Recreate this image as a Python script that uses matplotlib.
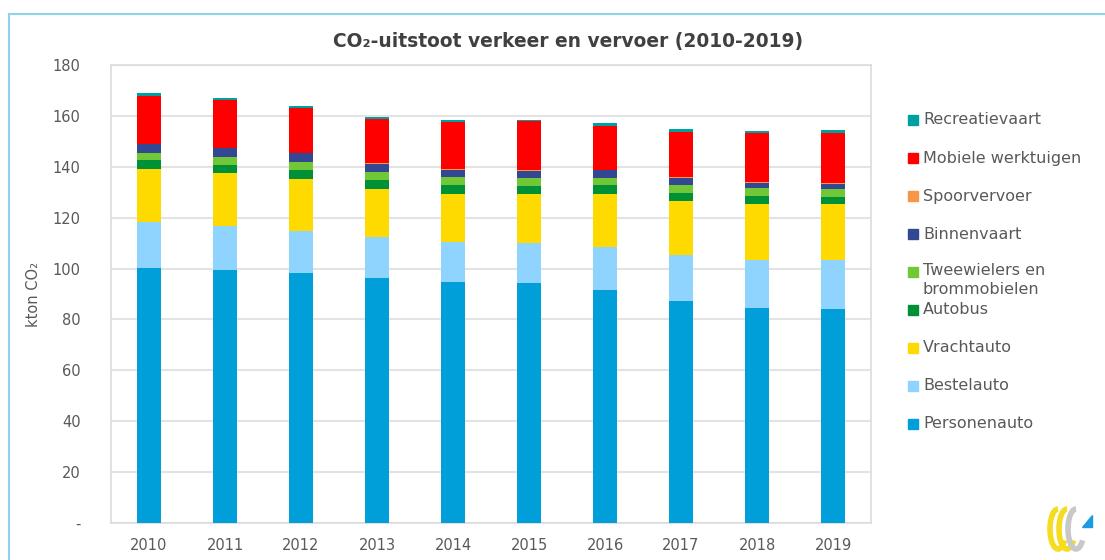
import matplotlib
matplotlib.use("Agg")
import matplotlib.pyplot as plt
import numpy as np
from matplotlib.patches import Rectangle, Arc, Polygon
from matplotlib.lines import Line2D

plt.rcParams['font.family'] = ['DejaVu Sans']

years = ['2010', '2011', '2012', '2013', '2014', '2015', '2016', '2017', '2018', '2019']

personenauto = [100.2, 99.4, 98.4, 96.2, 94.9, 94.2, 91.6, 87.1, 84.5, 84.0]
bestelauto = [18.1, 17.5, 16.5, 16.1, 15.7, 15.7, 17.0, 18.1, 19.0, 19.5]
vrachtauto = [20.7, 20.6, 20.3, 19.0, 18.8, 19.5, 20.8, 21.3, 21.8, 21.7]
autobus = [3.5, 3.2, 3.4, 3.5, 3.3, 3.1, 3.3, 3.2, 3.3, 3.1]
tweewielers = [3.1, 3.2, 3.3, 3.2, 3.2, 3.1, 2.9, 3.2, 2.9, 3.0]
binnenvaart = [3.2, 3.3, 3.4, 3.1, 3.0, 2.9, 3.0, 2.8, 2.1, 2.0]
spoorvervoer = [0.3, 0.3, 0.3, 0.3, 0.3, 0.3, 0.3, 0.3, 0.3, 0.3]
mobiele_werktuigen = [18.9, 18.9, 17.5, 17.4, 18.3, 19.0, 17.2, 17.8, 19.3, 19.8]
recreatievaart = [0.8, 0.7, 0.8, 0.8, 0.9, 0.6, 1.0, 1.0, 0.9, 0.9]

series_names = ['Personenauto', 'Bestelauto', 'Vrachtauto', 'Autobus',
                'Tweewielers en\nbrommobielen', 'Binnenvaart', 'Spoorvervoer',
                'Mobiele werktuigen', 'Recreatievaart']
series_values = [personenauto, bestelauto, vrachtauto, autobus, tweewielers,
                 binnenvaart, spoorvervoer, mobiele_werktuigen, recreatievaart]
series_colors = ['#009FDA', '#8FD3FF', '#FFDA00', '#009036', '#71C837',
                 '#334893', '#F79646', '#FF0000', '#00A0A0']

yticks = [0, 20, 40, 60, 80, 100, 120, 140, 160, 180]
ytick_labels = ['-', '20', '40', '60', '80', '100', '120', '140', '160', '180']

W, H = 1105, 560
fig = plt.figure(figsize=(W / 100, H / 100), dpi=100)
ax = fig.add_axes([111 / W, 1 - 523 / H, (871 - 111) / W, (523 - 65) / H])

x = np.arange(len(years))
bottom = np.zeros(len(years))
for vals, col in zip(series_values, series_colors):
    ax.bar(x, vals, width=0.315, bottom=bottom, color=col, zorder=3,
           edgecolor='none')
    bottom += np.array(vals)

ax.set_xlim(-0.5, len(years) - 0.5)
ax.set_ylim(0, 180)
ax.set_yticks(yticks)
ax.set_yticklabels(ytick_labels)
ax.set_xticks(x)
ax.set_xticklabels(years)
ax.tick_params(axis='both', length=0, labelsize=10.5, colors='#595959')
ax.tick_params(axis='y', pad=22)
ax.tick_params(axis='x', pad=11)
ax.grid(axis='y', color='#e3e3e3', linewidth=1.5, zorder=0)
for s in ax.spines.values():
    s.set_color('#dcdcdc')
    s.set_linewidth(1.2)
ax.set_ylabel('kton CO₂', fontsize=10.5, color='#595959', labelpad=8)

fig.text((333 + 803) / 2 / W, 1 - 41 / H, 'CO₂-uitstoot verkeer en vervoer (2010-2019)',
         ha='center', va='center', fontsize=13.4, fontweight='bold', color='#404040')

# manual legend (top entry = last series)
row0 = 120
for k, (name, col) in enumerate(zip(series_names[::-1], series_colors[::-1])):
    yc = row0 + 38 * k
    fig.patches.append(Rectangle((908 / W, 1 - (yc + 5) / H), 10 / W, 10 / H,
                                 transform=fig.transFigure, color=col))
    if '\n' in name:
        fig.text(923 / W, 1 - (yc - 9) / H, name, ha='left', va='top',
                 fontsize=11.5, color='#595959', linespacing=1.3)
    else:
        fig.text(923 / W, 1 - yc / H, name, ha='left', va='center',
                 fontsize=11.5, color='#595959')

# chart frame lines (light blue)
fig.add_artist(Line2D([9 / W, 1], [1 - 14 / H, 1 - 14 / H], color='#8DD3EA',
                      linewidth=1.5, transform=fig.transFigure))
fig.add_artist(Line2D([9 / W, 9 / W], [0, 1 - 14 / H], color='#8DD3EA',
                      linewidth=1.5, transform=fig.transFigure))

# small logo
lax = fig.add_axes([1042 / W, 1 - 555 / H, 60 / W, 52 / H])
lax.set_xlim(0, 60)
lax.set_ylim(0, 52)
lax.set_aspect('equal')
lax.axis('off')
for cx, col in [(16, '#F5DC1E'), (25, '#F5DC1E'), (34, '#C8C8C8')]:
    lax.add_patch(Arc((cx, 26), 16, 40, theta1=90, theta2=300, color=col, linewidth=4))
lax.add_patch(Polygon([[40, 28], [50, 28], [50, 40]], closed=True, color='#1E9BE0'))

fig.savefig('out.png', dpi=100, facecolor='white')
